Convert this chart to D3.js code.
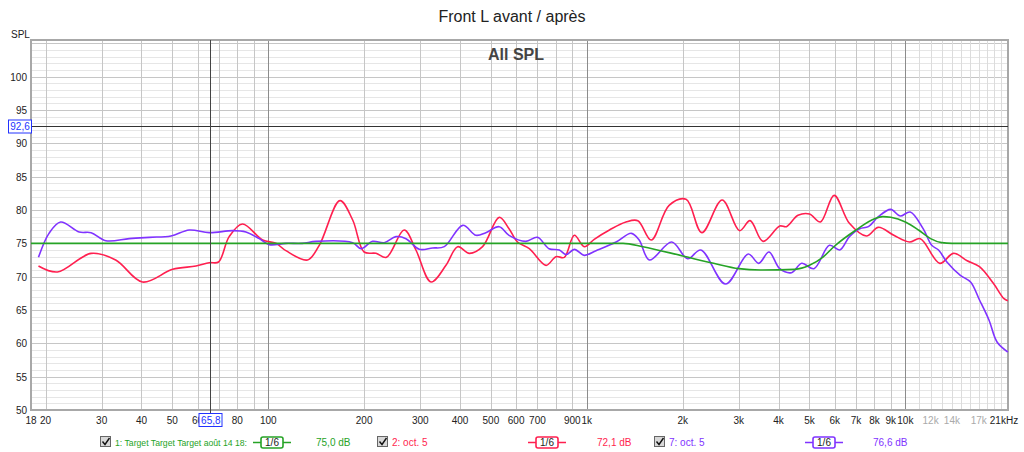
<!DOCTYPE html>
<html>
<head>
  <meta charset="utf-8">
  <style>
    body { margin: 0; background: #fff; font-family: "Liberation Sans", Arial, sans-serif; }
    svg text { font-family: "Liberation Sans", Arial, sans-serif; }
  </style>
</head>
<body>
<svg width="1024" height="452"></svg>
<script src="https://d3js.org/d3.v7.min.js"></script>
<script>
// ---- data (frequency in Hz, level in dB SPL) ----
var targetFreq = [18, 100, 1000, 1300, 1500, 2000, 2500, 3000, 3500, 4500, 5000, 5500, 6000, 7000, 8000, 8500, 9000, 10000, 11000, 12000, 13000, 14000, 21000];
var targetDb   = [75, 75, 75, 75, 74.5, 73.1, 72, 71.2, 71, 71.1, 71.7, 72.9, 74.6, 77, 78.7, 79, 78.9, 78.2, 77, 75.7, 75.1, 75, 75];

var oct5aFreq = [19, 21.8, 27.8, 33.2, 40.3, 50.1, 59.3, 65.3, 69.8, 75.4, 83, 96, 105.7, 113.6, 132.8, 144.6, 167.9, 184.1, 200, 217.9, 235, 267.2, 290.8, 324.4, 361.3, 393.2, 428, 470.8, 531, 570, 606, 660, 745, 800, 850, 914, 982, 1055, 1178, 1327, 1446, 1593, 1813, 2049, 2297, 2660, 3017, 3255, 3575, 4034, 4234, 4602, 5005, 5412, 5977, 6673, 7547, 8226, 9200, 10300, 11140, 12830, 14160, 15630, 17090, 18890, 20400, 20970];
var oct5aDb   = [71.6, 70.7, 73.5, 72.5, 69.2, 71.1, 71.6, 72.1, 72.2, 76, 77.9, 75.5, 75, 73.9, 72.5, 74.7, 81.4, 78.5, 73.7, 73.5, 72.9, 77, 74, 69.2, 71.7, 74.5, 73.5, 74.5, 78.9, 77.2, 75.2, 74.2, 71.7, 73, 72.9, 76.2, 74.5, 75.6, 77, 78.2, 78.4, 75.5, 80.7, 81.6, 76.6, 81.5, 76.9, 78.4, 75.3, 77.6, 77.5, 79.2, 79.4, 78.2, 82.2, 78, 76.1, 77.4, 76.2, 75.2, 75.7, 72, 73.5, 72.4, 71.5, 69, 66.7, 66.4];

var oct5bFreq = [19, 20.5, 22.3, 25.5, 27.8, 30.9, 36.6, 42.3, 49.5, 56.5, 65.3, 77.3, 85.1, 93.7, 100.7, 113.6, 128, 141, 184, 195.6, 212.6, 231.2, 251.7, 270.7, 298, 328, 357, 408, 449, 482, 531, 570, 643, 700, 761, 820, 861, 914, 982, 1069, 1236, 1380, 1460, 1573, 1848, 2073, 2280, 2726, 3212, 3465, 3731, 4034, 4390, 4730, 5164, 5778, 6224, 6673, 7188, 7653, 8226, 8995, 9630, 10360, 11370, 12100, 12710, 13500, 14880, 16020, 17090, 18300, 19400, 20970];
var oct5bDb   = [72.9, 76.5, 78.2, 76.7, 76.6, 75.4, 75.7, 75.9, 76.1, 77, 76.6, 76.9, 76.7, 75.7, 74.8, 75, 75, 75.3, 75.1, 74.2, 75.3, 75.1, 76, 75.7, 74.1, 74.3, 74.5, 77.7, 76.2, 76.6, 77.5, 76.2, 75.3, 75.9, 74.2, 74, 73.3, 74.1, 73.2, 73.9, 75.2, 76.5, 75.5, 72.5, 75.2, 72.7, 74, 68.9, 73.4, 72, 73.7, 71.2, 70.6, 72, 71.2, 74.7, 74, 76, 77.2, 77.5, 79, 80.1, 79.1, 79.7, 77.2, 74.7, 74, 72.2, 70.2, 69.2, 66.5, 63.5, 60.2, 58.7];

var yTicks = [50, 55, 60, 65, 70, 75, 80, 85, 90, 95, 100];
var xTicks = [18, 20, 30, 40, 50, 60, 80, 100, 200, 300, 400, 500, 600, 700, 900, 1000, 2000, 3000, 4000, 5000, 6000, 7000, 8000, 9000, 10000];
var xTicksGrey = [12000, 14000, 17000];

var cursorDb = 92.6, cursorFreq = 65.8;

var legendNames = ["1: Target Target Target août 14 18:", "2: oct. 5", "7: oct. 5"];
var legendLevels = ["75,0 dB", "72,1 dB", "76,6 dB"];
var colors = ["#26a326", "#ff1f4f", "#8033ff"];

// ---- layout ----
var svg = d3.select("svg");
var plotL = 31, plotR = 1008, plotT = 40, plotB = 410;

var x = d3.scaleLog().domain([18, 21000]).range([plotL, plotR]);
var y = d3.scaleLinear().domain([50, 105.5]).range([plotB, plotT]);

var g = svg.append("g");

// horizontal grid: 1 dB minor, 5 dB major
d3.range(51, 106).forEach(function(v) {
  g.append("line")
    .attr("x1", plotL).attr("x2", plotR)
    .attr("y1", Math.round(y(v)) + 0.5).attr("y2", Math.round(y(v)) + 0.5)
    .attr("stroke", v % 5 === 0 ? "#c6c6c6" : "#e6e6e6");
});

// vertical grid
var vLines = [];
[10, 100, 1000].forEach(function(dec) {
  for (var m = 1; m < 10; m++) {
    var f = dec * m;
    if (f >= 20 && f <= 10000) vLines.push(f);
  }
});
vLines.push(10000);
vLines.forEach(function(f) {
  var isDecade = (f === 100 || f === 1000 || f === 10000);
  g.append("line")
    .attr("x1", Math.round(x(f)) + 0.5).attr("x2", Math.round(x(f)) + 0.5)
    .attr("y1", plotT).attr("y2", plotB)
    .attr("stroke", isDecade ? "#8c8c8c" : "#c6c6c6");
});
d3.range(11000, 21000, 1000).forEach(function(f) {
  g.append("line")
    .attr("x1", Math.round(x(f)) + 0.5).attr("x2", Math.round(x(f)) + 0.5)
    .attr("y1", plotT).attr("y2", plotB)
    .attr("stroke", "#dcdcdc");
});

// plot border
g.append("rect")
  .attr("x", plotL).attr("y", plotT)
  .attr("width", plotR - plotL).attr("height", plotB - plotT)
  .attr("fill", "none").attr("stroke", "#a8a8a8").attr("stroke-width", 2);

// chart title and graph name
svg.append("text")
  .attr("x", 512).attr("y", 22)
  .attr("text-anchor", "middle")
  .attr("font-size", 16).attr("fill", "#222")
  .text("Front L avant / après");

svg.append("text")
  .attr("x", 516).attr("y", 60)
  .attr("text-anchor", "middle")
  .attr("font-size", 16).attr("font-weight", "bold").attr("fill", "#444")
  .text("All SPL");

// y labels
svg.append("text").attr("x", 11).attr("y", 38).attr("font-size", 10).attr("fill", "#222").text("SPL");
yTicks.forEach(function(v) {
  svg.append("text")
    .attr("x", 27).attr("y", y(v) + 4)
    .attr("text-anchor", "end")
    .attr("font-size", 10).attr("fill", "#222")
    .text(v);
});

// x labels
function fmtFreq(f) { return f >= 1000 ? (f / 1000) + "k" : String(f); }
xTicks.forEach(function(f) {
  svg.append("text")
    .attr("x", x(f)).attr("y", 424)
    .attr("text-anchor", "middle")
    .attr("font-size", 10).attr("fill", "#222")
    .text(fmtFreq(f));
});
xTicksGrey.forEach(function(f) {
  svg.append("text")
    .attr("x", x(f)).attr("y", 424)
    .attr("text-anchor", "middle")
    .attr("font-size", 10).attr("fill", "#aaa")
    .text(fmtFreq(f));
});
svg.append("text")
  .attr("x", x(21000) - 4).attr("y", 424)
  .attr("text-anchor", "middle")
  .attr("font-size", 10).attr("fill", "#222")
  .text("21kHz");

// curves
var line = d3.line()
  .x(function(d) { return x(d[0]); })
  .y(function(d) { return y(d[1]); })
  .curve(d3.curveCatmullRom.alpha(0.5));

var targetLine = d3.line()
  .x(function(d) { return x(d[0]); })
  .y(function(d) { return y(d[1]); })
  .curve(d3.curveMonotoneX);

var series = [
  d3.zip(targetFreq, targetDb),
  d3.zip(oct5aFreq, oct5aDb),
  d3.zip(oct5bFreq, oct5bDb)
];
[1, 2, 0].forEach(function(i) {
  g.append("path")
    .datum(series[i])
    .attr("d", i === 0 ? targetLine : line)
    .attr("fill", "none")
    .attr("stroke", colors[i])
    .attr("stroke-width", 1.6);
});

// cursors
g.append("line")
  .attr("x1", plotL).attr("x2", plotR)
  .attr("y1", Math.round(y(cursorDb)) + 0.5).attr("y2", Math.round(y(cursorDb)) + 0.5)
  .attr("stroke", "#333");
g.append("line")
  .attr("x1", Math.round(x(cursorFreq)) + 0.5).attr("x2", Math.round(x(cursorFreq)) + 0.5)
  .attr("y1", plotT).attr("y2", plotB + 4)
  .attr("stroke", "#444");

svg.append("rect")
  .attr("x", 8.5).attr("y", Math.round(y(cursorDb)) - 6)
  .attr("width", 23).attr("height", 13)
  .attr("fill", "#fff").attr("stroke", "#2233ff");
svg.append("text")
  .attr("x", 20).attr("y", y(cursorDb) + 4)
  .attr("text-anchor", "middle")
  .attr("font-size", 10).attr("fill", "#2233ff")
  .text("92,6");

svg.append("rect")
  .attr("x", Math.round(x(cursorFreq)) - 11).attr("y", 413.5)
  .attr("width", 23).attr("height", 13)
  .attr("fill", "#fff").attr("stroke", "#2233ff");
svg.append("text")
  .attr("x", x(cursorFreq) + 0.5).attr("y", 424)
  .attr("text-anchor", "middle")
  .attr("font-size", 10).attr("fill", "#2233ff")
  .text("65,8");

// legend
var legendX = [100, 377, 654];
var symbolX = [253, 528, 805];
var levelX = [316, 597, 873];
var ly = 442;

legendNames.forEach(function(name, i) {
  var lg = svg.append("g");
  lg.append("rect")
    .attr("x", legendX[i] + 0.5).attr("y", ly - 5.5)
    .attr("width", 10).attr("height", 10)
    .attr("fill", "#d8d8d8").attr("stroke", "#666");
  lg.append("path")
    .attr("d", "M" + (legendX[i] + 2.5) + "," + (ly - 0.5) + " l2.5,3 l4.5,-6.5")
    .attr("fill", "none").attr("stroke", "#111").attr("stroke-width", 1.4);
  var t = lg.append("text")
    .attr("x", legendX[i] + 15).attr("y", ly + 4)
    .attr("font-size", 10).attr("fill", colors[i])
    .text(name);
  if (i === 0) t.attr("font-size", 9.5).attr("textLength", 132).attr("lengthAdjust", "spacingAndGlyphs");

  lg.append("line")
    .attr("x1", symbolX[i]).attr("x2", symbolX[i] + 38)
    .attr("y1", ly + 0.5).attr("y2", ly + 0.5)
    .attr("stroke", colors[i]).attr("stroke-width", 1.6);
  lg.append("rect")
    .attr("x", symbolX[i] + 8).attr("y", ly - 5)
    .attr("width", 22).attr("height", 11).attr("rx", 2)
    .attr("fill", "#fff").attr("stroke", colors[i]).attr("stroke-width", 1.6);
  lg.append("text")
    .attr("x", symbolX[i] + 19).attr("y", ly + 4)
    .attr("text-anchor", "middle")
    .attr("font-size", 10).attr("fill", "#222")
    .text("1/6");

  lg.append("text")
    .attr("x", levelX[i]).attr("y", ly + 4)
    .attr("font-size", 10).attr("fill", colors[i])
    .text(legendLevels[i]);
});
</script>
</body>
</html>
